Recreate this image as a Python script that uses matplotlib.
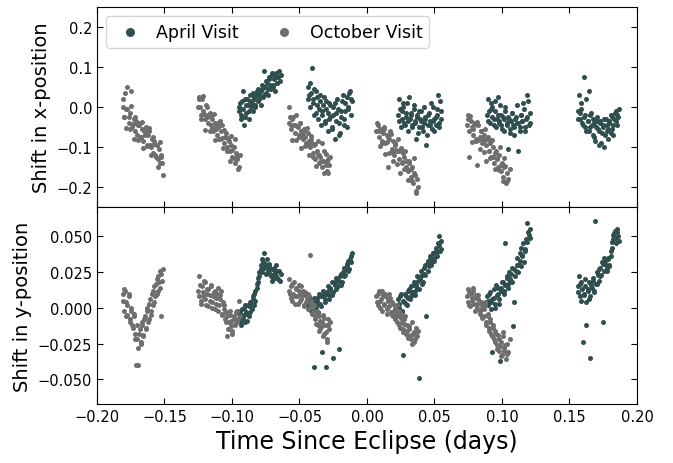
import matplotlib
matplotlib.use("Agg")
import matplotlib.pyplot as plt

# ---------------- October visit (5 orbits) ----------------
oct1_t = [-0.1810, -0.1801, -0.1792, -0.1783, -0.1774, -0.1765, -0.1756, -0.1747, -0.1738, -0.1729, -0.1720, -0.1711, -0.1702, -0.1693, -0.1684, -0.1675, -0.1666, -0.1657, -0.1648, -0.1639, -0.1630, -0.1621, -0.1612, -0.1603, -0.1594, -0.1585, -0.1576, -0.1567, -0.1558, -0.1549, -0.1540, -0.1531, -0.1522, -0.1513,
          -0.1806, -0.1796, -0.1786, -0.1776, -0.1766, -0.1756, -0.1746, -0.1736, -0.1726, -0.1716, -0.1706, -0.1696, -0.1686, -0.1676, -0.1666, -0.1656, -0.1646, -0.1636, -0.1626, -0.1616, -0.1606, -0.1596, -0.1586, -0.1576, -0.1566, -0.1556, -0.1546, -0.1536, -0.1526, -0.1516]
oct1_x = [0.000, -0.025, 0.035, -0.005, 0.050, -0.040, -0.015, 0.040, -0.050, -0.030, -0.060, -0.035, -0.070, -0.045, -0.040, -0.075, -0.055, -0.085, -0.060, -0.050, -0.095, -0.070, -0.060, -0.100, -0.080, -0.115, -0.085, -0.120, -0.095, -0.130, -0.105, -0.140, -0.125, -0.170,
          0.020, -0.024, -0.053, -0.006, -0.025, -0.054, 0.002, -0.042, -0.080, -0.024, -0.043, -0.082, -0.046, -0.074, -0.038, -0.102, -0.071, -0.060, -0.098, -0.052, -0.096, -0.120, -0.074, -0.092, -0.126, -0.095, -0.149, -0.088, -0.121, -0.140]
oct1_y = [0.010, -0.002, 0.012, 0.004, -0.005, 0.008, -0.008, 0.000, -0.012, -0.004, -0.018, -0.040, -0.022, -0.040, -0.015, -0.025, -0.010, -0.020, -0.008, -0.015, -0.002, -0.010, 0.003, -0.005, 0.010, 0.002, 0.015, 0.008, 0.020, 0.012, 0.018, 0.026, -0.006, 0.027,
          0.005, 0.013, -0.006, 0.002, 0.010, -0.010, -0.002, -0.014, -0.006, -0.022, -0.012, -0.028, -0.018, -0.024, -0.012, -0.019, -0.006, -0.014, 0.000, -0.008, 0.006, -0.002, 0.012, 0.004, 0.017, 0.010, 0.022, 0.014, 0.024, 0.019]

oct2_t = [-0.1250, -0.1241, -0.1231, -0.1222, -0.1212, -0.1203, -0.1194, -0.1184, -0.1175, -0.1165, -0.1156, -0.1147, -0.1137, -0.1128, -0.1118, -0.1109, -0.1100, -0.1090, -0.1081, -0.1071, -0.1062, -0.1053, -0.1043, -0.1034, -0.1024, -0.1015, -0.1006, -0.0996, -0.0987, -0.0977, -0.0968, -0.0959, -0.0949, -0.0940,
          -0.1246, -0.1236, -0.1226, -0.1216, -0.1206, -0.1196, -0.1186, -0.1176, -0.1166, -0.1156, -0.1146, -0.1136, -0.1126, -0.1116, -0.1106, -0.1096, -0.1086, -0.1076, -0.1066, -0.1056, -0.1046, -0.1036, -0.1026, -0.1016, -0.1006, -0.0996, -0.0986, -0.0976, -0.0966, -0.0956]
oct2_x = [0.000, 0.025, -0.020, 0.020, -0.010, -0.030, 0.005, -0.025, -0.040, -0.015, -0.045, -0.030, -0.060, -0.040, -0.055, -0.070, -0.050, -0.080, -0.060, -0.045, -0.090, -0.075, -0.065, -0.100, -0.085, -0.110, -0.095, -0.125, -0.100, -0.140, -0.115, -0.130, -0.150, -0.120,
          0.020, 0.001, -0.029, 0.027, -0.017, -0.057, -0.001, -0.020, -0.059, -0.024, -0.053, -0.017, -0.082, -0.051, -0.040, -0.080, -0.034, -0.078, -0.102, -0.057, -0.076, -0.110, -0.080, -0.134, -0.073, -0.108, -0.127, -0.081, -0.125, -0.155]
oct2_y = [0.012, 0.022, 0.005, 0.015, 0.008, 0.018, 0.002, 0.010, 0.013, 0.005, 0.015, 0.000, 0.008, 0.012, 0.003, 0.010, -0.002, 0.006, 0.012, -0.005, 0.002, -0.008, -0.003, -0.020, -0.010, -0.005, -0.013, -0.018, -0.008, -0.012, -0.003, -0.010, 0.005, -0.006,
          0.008, 0.016, 0.003, 0.011, 0.019, 0.006, 0.013, 0.001, 0.009, 0.016, 0.004, 0.011, -0.001, 0.007, 0.014, 0.002, 0.009, -0.004, 0.004, -0.001, -0.010, -0.006, -0.015, -0.002, -0.009, -0.016, -0.006, -0.011, -0.002, -0.008]

oct3_t = [-0.0580, -0.0571, -0.0561, -0.0552, -0.0542, -0.0533, -0.0524, -0.0514, -0.0505, -0.0495, -0.0486, -0.0477, -0.0467, -0.0458, -0.0448, -0.0439, -0.0430, -0.0420, -0.0411, -0.0401, -0.0392, -0.0383, -0.0373, -0.0364, -0.0354, -0.0345, -0.0336, -0.0326, -0.0317, -0.0307, -0.0298, -0.0289, -0.0279, -0.0270,
          -0.0576, -0.0566, -0.0556, -0.0546, -0.0536, -0.0526, -0.0516, -0.0506, -0.0496, -0.0486, -0.0476, -0.0466, -0.0456, -0.0446, -0.0436, -0.0426, -0.0416, -0.0406, -0.0396, -0.0386, -0.0376, -0.0366, -0.0356, -0.0346, -0.0336, -0.0326, -0.0316, -0.0306, -0.0296, -0.0286]
oct3_x = [-0.040, -0.025, -0.055, -0.030, -0.045, -0.065, -0.020, -0.050, -0.070, -0.040, -0.060, -0.080, -0.055, -0.075, -0.090, -0.065, -0.085, -0.100, -0.080, -0.115, -0.095, -0.130, -0.110, -0.120, -0.140, -0.125, -0.150, -0.135, -0.110, -0.145, -0.160, -0.130, -0.145, -0.125,
          0.000, -0.044, -0.082, -0.026, -0.044, -0.083, -0.047, -0.075, -0.039, -0.102, -0.071, -0.060, -0.098, -0.052, -0.095, -0.119, -0.073, -0.091, -0.125, -0.093, -0.147, -0.086, -0.119, -0.138, -0.091, -0.135, -0.164, -0.117, -0.136, -0.164]
oct3_y = [0.020, 0.010, 0.015, 0.005, 0.018, 0.008, 0.013, 0.003, 0.016, 0.010, 0.006, 0.012, 0.002, 0.009, 0.004, 0.010, 0.000, 0.037, 0.005, -0.003, 0.002, -0.008, -0.002, -0.012, -0.006, -0.015, -0.010, -0.005, -0.018, -0.012, -0.022, -0.008, -0.015, -0.010,
          0.012, 0.007, 0.017, 0.010, 0.003, 0.014, 0.008, 0.012, 0.005, 0.015, 0.009, 0.001, 0.011, 0.006, -0.001, 0.008, 0.003, -0.004, 0.001, -0.006, -0.011, -0.004, -0.016, -0.009, -0.013, -0.020, -0.007, -0.017, -0.024, -0.012]

oct4_t = [0.0070, 0.0079, 0.0089, 0.0098, 0.0108, 0.0117, 0.0126, 0.0136, 0.0145, 0.0155, 0.0164, 0.0173, 0.0183, 0.0192, 0.0202, 0.0211, 0.0220, 0.0230, 0.0239, 0.0249, 0.0258, 0.0267, 0.0277, 0.0286, 0.0296, 0.0305, 0.0314, 0.0324, 0.0333, 0.0343, 0.0352, 0.0361, 0.0371, 0.0380,
          0.0075, 0.0085, 0.0095, 0.0105, 0.0115, 0.0125, 0.0135, 0.0145, 0.0155, 0.0165, 0.0175, 0.0185, 0.0195, 0.0205, 0.0215, 0.0225, 0.0235, 0.0245, 0.0255, 0.0265, 0.0275, 0.0285, 0.0295, 0.0305, 0.0315, 0.0325, 0.0335, 0.0345, 0.0355, 0.0365]
oct4_x = [-0.060, -0.045, -0.075, -0.055, -0.085, -0.065, -0.050, -0.090, -0.070, -0.150, -0.080, -0.060, -0.105, -0.085, -0.120, -0.095, -0.110, -0.080, -0.130, -0.105, -0.140, -0.115, -0.125, -0.150, -0.135, -0.160, -0.140, -0.175, -0.150, -0.190, -0.165, -0.215, -0.180, -0.200,
          -0.040, -0.059, -0.098, -0.061, -0.090, -0.054, -0.118, -0.087, -0.075, -0.114, -0.068, -0.112, -0.136, -0.089, -0.108, -0.142, -0.111, -0.165, -0.103, -0.137, -0.156, -0.110, -0.154, -0.182, -0.136, -0.155, -0.184, -0.128, -0.171, -0.210]
oct4_y = [0.008, 0.002, 0.012, 0.005, -0.002, 0.009, 0.003, 0.010, -0.004, 0.006, 0.001, 0.007, -0.005, 0.003, -0.002, -0.008, 0.002, -0.006, -0.012, -0.004, -0.010, -0.015, -0.008, -0.018, -0.012, -0.020, -0.015, -0.022, -0.010, -0.018, -0.024, -0.014, -0.020, -0.016,
          0.004, 0.010, 0.000, 0.006, 0.012, 0.002, 0.008, -0.001, 0.005, 0.010, -0.003, 0.004, -0.006, 0.000, -0.004, -0.010, -0.002, -0.014, -0.007, -0.017, -0.011, -0.006, -0.016, -0.021, -0.013, -0.019, -0.025, -0.017, -0.022, -0.019]

oct5_t = [0.0740, 0.0750, 0.0759, 0.0769, 0.0778, 0.0788, 0.0798, 0.0807, 0.0817, 0.0826, 0.0836, 0.0846, 0.0855, 0.0865, 0.0874, 0.0884, 0.0894, 0.0903, 0.0913, 0.0922, 0.0932, 0.0942, 0.0951, 0.0961, 0.0970, 0.0980, 0.0990, 0.0999, 0.1009, 0.1018, 0.1028, 0.1038, 0.1047, 0.1057,
          0.0745, 0.0755, 0.0765, 0.0775, 0.0785, 0.0795, 0.0805, 0.0815, 0.0825, 0.0835, 0.0845, 0.0855, 0.0865, 0.0875, 0.0885, 0.0895, 0.0905, 0.0915, 0.0925, 0.0935, 0.0945, 0.0955, 0.0965, 0.0975, 0.0985, 0.0995, 0.1005, 0.1015, 0.1025, 0.1035]
oct5_x = [-0.045, -0.020, -0.125, -0.035, -0.050, -0.070, -0.040, -0.080, -0.145, -0.045, -0.075, -0.060, -0.090, -0.070, -0.055, -0.095, -0.080, -0.110, -0.090, -0.125, -0.100, -0.140, -0.115, -0.130, -0.150, -0.120, -0.160, -0.140, -0.175, -0.150, -0.190, -0.165, -0.180, -0.155,
          -0.030, -0.059, -0.023, -0.087, -0.056, -0.045, -0.084, -0.038, -0.082, -0.106, -0.060, -0.079, -0.113, -0.082, -0.136, -0.075, -0.109, -0.128, -0.082, -0.126, -0.155, -0.109, -0.128, -0.157, -0.101, -0.145, -0.184, -0.128, -0.147, -0.186]
oct5_y = [0.008, 0.013, 0.002, 0.010, 0.005, 0.012, -0.002, 0.007, 0.003, 0.009, -0.004, 0.004, 0.000, -0.006, 0.002, -0.010, -0.004, -0.014, -0.008, -0.018, -0.012, -0.022, -0.016, -0.026, -0.019, -0.030, -0.024, -0.033, -0.020, -0.028, -0.036, -0.025, -0.031, -0.022,
          0.004, 0.011, 0.001, 0.007, 0.014, 0.003, 0.009, 0.000, 0.006, -0.002, 0.003, -0.007, -0.001, 0.004, -0.012, -0.006, -0.016, -0.010, -0.020, -0.014, -0.024, -0.018, -0.029, -0.022, -0.027, -0.034, -0.017, -0.030, -0.026, -0.032]

# ---------------- April visit (5 orbits) ----------------
apr1_t = [-0.0950, -0.0940, -0.0931, -0.0921, -0.0912, -0.0902, -0.0893, -0.0883, -0.0874, -0.0864, -0.0855, -0.0845, -0.0836, -0.0826, -0.0817, -0.0807, -0.0798, -0.0788, -0.0779, -0.0769, -0.0760, -0.0750, -0.0741, -0.0731, -0.0722, -0.0712, -0.0703, -0.0693, -0.0684, -0.0674, -0.0665, -0.0655, -0.0646, -0.0636,
          -0.0946, -0.0936, -0.0926, -0.0916, -0.0906, -0.0896, -0.0886, -0.0876, -0.0866, -0.0856, -0.0846, -0.0836, -0.0826, -0.0816, -0.0806, -0.0796, -0.0786, -0.0776, -0.0766, -0.0756, -0.0746, -0.0736, -0.0726, -0.0716, -0.0706, -0.0696, -0.0686, -0.0676, -0.0666, -0.0656]
apr1_x = [-0.010, 0.010, -0.030, 0.040, -0.045, 0.020, -0.015, 0.005, -0.030, 0.030, 0.010, -0.010, 0.025, 0.000, 0.040, 0.015, 0.030, 0.005, 0.045, 0.025, 0.090, 0.035, 0.060, 0.030, 0.070, 0.045, 0.085, 0.055, 0.040, 0.075, 0.060, 0.090, 0.065, 0.080,
          0.000, -0.020, 0.015, -0.005, -0.025, 0.005, 0.020, -0.010, 0.015, 0.000, 0.035, 0.020, 0.005, 0.030, 0.045, 0.020, 0.040, 0.055, 0.030, 0.050, 0.065, 0.045, 0.075, 0.055, 0.080, 0.050, 0.070, 0.085, 0.060, 0.075]
apr1_y = [-0.008, -0.002, -0.012, -0.005, 0.000, -0.010, -0.003, 0.002, -0.006, 0.004, -0.001, 0.006, 0.010, 0.005, 0.014, 0.018, 0.022, 0.027, 0.025, 0.032, 0.038, 0.030, 0.034, 0.026, 0.029, 0.022, 0.027, 0.020, 0.025, 0.030, 0.021, 0.026, 0.019, 0.024,
          -0.004, -0.010, -0.001, -0.007, 0.002, -0.004, -0.009, 0.001, -0.003, 0.003, 0.008, 0.002, 0.012, 0.017, 0.021, 0.025, 0.030, 0.034, 0.028, 0.031, 0.024, 0.028, 0.031, 0.024, 0.019, 0.023, 0.028, 0.022, 0.026, 0.020]

apr2_t = [-0.0440, -0.0430, -0.0420, -0.0410, -0.0400, -0.0390, -0.0380, -0.0370, -0.0360, -0.0350, -0.0340, -0.0330, -0.0320, -0.0310, -0.0300, -0.0290, -0.0280, -0.0270, -0.0260, -0.0250, -0.0240, -0.0230, -0.0220, -0.0210, -0.0200, -0.0190, -0.0180, -0.0170, -0.0160, -0.0150, -0.0140, -0.0130, -0.0120, -0.0110,
          -0.0435, -0.0424, -0.0413, -0.0402, -0.0391, -0.0380, -0.0369, -0.0358, -0.0347, -0.0336, -0.0325, -0.0314, -0.0303, -0.0292, -0.0281, -0.0270, -0.0259, -0.0248, -0.0237, -0.0226, -0.0215, -0.0204, -0.0193, -0.0182, -0.0171, -0.0160, -0.0149, -0.0138, -0.0127, -0.0116]
apr2_x = [0.050, 0.030, 0.000, 0.097, 0.020, -0.020, 0.040, 0.005, -0.030, 0.015, -0.045, -0.010, 0.025, -0.035, -0.005, -0.060, 0.010, -0.025, -0.050, 0.000, -0.080, -0.015, 0.020, -0.040, -0.065, -0.010, 0.030, -0.030, 0.010, -0.050, 0.000, 0.035, -0.020, 0.015,
          0.020, 0.060, 0.035, 0.010, 0.045, -0.015, 0.025, -0.005, 0.030, -0.020, 0.005, -0.040, 0.015, -0.015, -0.030, 0.005, -0.055, -0.020, 0.010, -0.035, -0.005, -0.070, -0.025, 0.015, -0.045, -0.010, 0.025, -0.005, 0.040, 0.020]
apr2_y = [0.003, 0.000, 0.006, -0.002, 0.004, -0.041, 0.002, 0.007, -0.003, 0.008, 0.001, -0.031, 0.010, 0.004, -0.041, 0.012, 0.006, 0.014, 0.009, -0.035, 0.018, 0.013, 0.020, -0.029, 0.022, 0.016, 0.025, 0.028, 0.023, 0.030, 0.033, 0.027, 0.036, 0.038,
          0.001, 0.005, -0.002, 0.003, 0.007, 0.000, 0.005, 0.010, 0.003, 0.008, 0.012, 0.006, 0.010, 0.015, 0.009, 0.013, 0.018, 0.011, 0.016, 0.021, 0.015, 0.019, 0.024, 0.018, 0.022, 0.027, 0.031, 0.026, 0.034, 0.032]

apr3_t = [0.0230, 0.0240, 0.0249, 0.0259, 0.0268, 0.0278, 0.0288, 0.0297, 0.0307, 0.0316, 0.0326, 0.0336, 0.0345, 0.0355, 0.0364, 0.0374, 0.0384, 0.0393, 0.0403, 0.0412, 0.0422, 0.0432, 0.0441, 0.0451, 0.0460, 0.0470, 0.0480, 0.0489, 0.0499, 0.0508, 0.0518, 0.0528, 0.0537, 0.0547,
          0.0235, 0.0246, 0.0257, 0.0268, 0.0279, 0.0290, 0.0301, 0.0312, 0.0323, 0.0334, 0.0345, 0.0356, 0.0367, 0.0378, 0.0389, 0.0400, 0.0411, 0.0422, 0.0433, 0.0444, 0.0455, 0.0466, 0.0477, 0.0488, 0.0499, 0.0510, 0.0521, 0.0532, 0.0543, 0.0552]
apr3_x = [-0.020, 0.020, -0.050, -0.010, 0.000, -0.040, -0.025, 0.010, -0.060, -0.030, -0.015, -0.045, 0.005, -0.035, -0.080, -0.020, -0.050, -0.030, -0.010, -0.060, -0.040, -0.025, -0.095, -0.045, -0.015, -0.035, -0.055, 0.000, -0.030, -0.045, -0.020, 0.030, -0.040, -0.010,
          -0.035, -0.005, -0.030, 0.010, -0.045, -0.015, -0.035, 0.025, -0.020, -0.050, -0.005, -0.040, -0.025, -0.065, -0.010, -0.035, -0.050, 0.000, -0.030, -0.070, -0.020, -0.045, 0.010, -0.035, -0.060, -0.025, -0.005, -0.050, 0.015, -0.030]
apr3_y = [0.006, 0.000, 0.010, -0.003, -0.033, 0.004, 0.008, 0.002, 0.012, 0.006, 0.015, 0.010, 0.018, 0.012, 0.016, 0.022, -0.049, 0.020, 0.026, 0.018, 0.024, 0.030, -0.006, 0.033, 0.029, 0.036, 0.032, 0.038, 0.035, 0.042, 0.039, 0.045, 0.050, 0.041,
          0.003, 0.008, -0.002, 0.005, 0.010, 0.003, 0.007, 0.013, 0.008, 0.011, 0.016, 0.009, 0.014, 0.019, 0.013, 0.022, 0.017, 0.028, 0.023, 0.031, 0.026, 0.034, 0.030, 0.038, 0.033, 0.040, 0.036, 0.044, 0.040, 0.047]

apr4_t = [0.0890, 0.0900, 0.0909, 0.0919, 0.0928, 0.0938, 0.0948, 0.0957, 0.0967, 0.0976, 0.0986, 0.0996, 0.1005, 0.1015, 0.1024, 0.1034, 0.1044, 0.1053, 0.1063, 0.1072, 0.1082, 0.1092, 0.1101, 0.1111, 0.1120, 0.1130, 0.1140, 0.1149, 0.1159, 0.1168, 0.1178, 0.1188, 0.1197, 0.1207,
          0.0895, 0.0906, 0.0917, 0.0928, 0.0938, 0.0949, 0.0960, 0.0970, 0.0981, 0.0992, 0.1002, 0.1013, 0.1024, 0.1034, 0.1045, 0.1056, 0.1066, 0.1077, 0.1088, 0.1098, 0.1109, 0.1120, 0.1130, 0.1141, 0.1152, 0.1162, 0.1173, 0.1184, 0.1194, 0.1205]
apr4_x = [-0.020, 0.020, -0.040, -0.005, 0.000, -0.030, 0.015, -0.050, -0.020, -0.035, 0.005, -0.045, -0.025, -0.060, -0.010, -0.040, -0.105, -0.030, -0.055, -0.015, -0.045, -0.070, -0.025, -0.040, -0.110, -0.050, -0.020, -0.035, 0.010, -0.060, -0.030, 0.030, -0.045, -0.015,
          -0.035, -0.010, 0.010, -0.025, -0.045, -0.010, -0.030, 0.025, -0.040, -0.020, -0.055, -0.030, 0.000, -0.045, -0.025, -0.065, -0.035, -0.015, -0.050, -0.030, 0.005, -0.040, -0.060, -0.020, -0.035, -0.005, -0.050, -0.025, 0.015, -0.040]
apr4_y = [0.008, 0.002, 0.011, 0.004, -0.031, 0.007, 0.000, 0.016, 0.010, 0.003, -0.037, 0.014, 0.018, 0.012, 0.045, 0.022, 0.017, 0.025, 0.020, 0.028, -0.013, 0.004, 0.026, 0.035, 0.030, 0.038, 0.042, 0.036, 0.045, 0.040, 0.048, 0.059, 0.051, 0.055,
          0.005, 0.010, -0.001, 0.006, 0.013, 0.003, 0.009, 0.014, 0.006, 0.012, 0.018, 0.010, 0.016, 0.021, 0.014, 0.019, 0.024, 0.018, 0.027, 0.022, 0.030, 0.025, 0.033, 0.029, 0.037, 0.032, 0.041, 0.046, 0.053, 0.049]

apr5_t = [0.1560, 0.1569, 0.1579, 0.1588, 0.1598, 0.1607, 0.1616, 0.1626, 0.1635, 0.1645, 0.1654, 0.1663, 0.1673, 0.1682, 0.1692, 0.1701, 0.1710, 0.1720, 0.1729, 0.1739, 0.1748, 0.1757, 0.1767, 0.1776, 0.1786, 0.1795, 0.1804, 0.1814, 0.1823, 0.1833, 0.1842, 0.1851, 0.1861, 0.1870,
          0.1565, 0.1575, 0.1585, 0.1595, 0.1605, 0.1615, 0.1625, 0.1635, 0.1645, 0.1655, 0.1665, 0.1675, 0.1685, 0.1695, 0.1705, 0.1715, 0.1725, 0.1735, 0.1745, 0.1755, 0.1765, 0.1775, 0.1785, 0.1795, 0.1805, 0.1815, 0.1825, 0.1835, 0.1845, 0.1855]
apr5_x = [-0.010, 0.030, -0.030, -0.005, -0.045, 0.075, -0.020, -0.060, -0.035, 0.040, -0.050, -0.015, -0.070, -0.040, -0.085, -0.025, -0.055, -0.095, -0.035, -0.065, -0.045, -0.100, -0.030, -0.060, -0.080, -0.040, -0.020, -0.055, -0.070, -0.030, -0.010, -0.045, -0.025, -0.005,
          -0.030, -0.015, 0.010, -0.040, -0.025, -0.050, 0.020, -0.035, -0.060, -0.020, -0.045, -0.030, -0.075, -0.050, -0.035, -0.060, -0.040, -0.090, -0.050, -0.030, -0.070, -0.045, -0.055, -0.035, -0.065, -0.025, -0.045, -0.015, -0.035, -0.020]
apr5_y = [0.015, 0.022, 0.008, 0.018, -0.024, 0.010, 0.020, -0.012, 0.013, 0.006, -0.035, 0.016, 0.019, 0.012, 0.061, 0.017, 0.023, 0.027, 0.022, 0.032, -0.010, 0.035, 0.030, 0.026, 0.034, 0.029, 0.036, 0.042, 0.048, 0.052, 0.045, 0.055, 0.050, 0.047,
          0.011, 0.017, 0.005, 0.013, 0.009, 0.015, 0.004, 0.012, 0.018, 0.008, 0.014, 0.021, 0.011, 0.017, 0.025, 0.019, 0.028, 0.023, 0.031, 0.026, 0.033, 0.028, 0.035, 0.030, 0.040, 0.046, 0.051, 0.054, 0.049, 0.053]

apr_t = apr1_t + apr2_t + apr3_t + apr4_t + apr5_t
apr_x = apr1_x + apr2_x + apr3_x + apr4_x + apr5_x
apr_y = apr1_y + apr2_y + apr3_y + apr4_y + apr5_y
oct_t = oct1_t + oct2_t + oct3_t + oct4_t + oct5_t
oct_x = oct1_x + oct2_x + oct3_x + oct4_x + oct5_x
oct_y = oct1_y + oct2_y + oct3_y + oct4_y + oct5_y

labels = ["April Visit", "October Visit"]
xticks = [-0.20, -0.15, -0.10, -0.05, 0.00, 0.05, 0.10, 0.15, 0.20]
top_yticks = [-0.2, -0.1, 0.0, 0.1, 0.2]
bot_yticks = [-0.050, -0.025, 0.000, 0.025, 0.050]

apr_color = "#2f4f4f"
oct_color = "#6e6e6e"
ms = 13

fig = plt.figure(figsize=(6.73, 4.64), dpi=100)
ax1 = fig.add_axes([0.144, 0.5517, 0.8025, 0.4310])
ax2 = fig.add_axes([0.144, 0.1272, 0.8025, 0.4245], sharex=ax1)

for ax, ya, yo in ((ax1, apr_x, oct_x), (ax2, apr_y, oct_y)):
    ax.scatter(apr_t, ya, s=ms, color=apr_color, label=labels[0], linewidths=0)
    ax.scatter(oct_t, yo, s=ms, color=oct_color, label=labels[1], linewidths=0)
    ax.tick_params(direction="in", top=True, right=True, labelsize=10.5, length=4)

ax1.set_xlim(-0.20, 0.20)
ax1.set_xticks(xticks)
ax1.tick_params(labelbottom=False)
ax1.set_ylim(-0.25, 0.25)
ax1.set_yticks(top_yticks)
ax1.set_yticklabels([f"{v:.1f}".replace("-", "\u2212") for v in top_yticks])
ax2.set_ylim(-0.0672, 0.0705)
ax2.set_yticks(bot_yticks)
ax2.set_yticklabels([f"{v:.3f}".replace("-", "\u2212") for v in bot_yticks])
ax2.set_xticklabels([f"{v:.2f}".replace("-", "\u2212") for v in xticks])

ax1.set_ylabel("Shift in x-position", fontsize=14)
ax2.set_ylabel("Shift in y-position", fontsize=14)
ax2.set_xlabel("Time Since Eclipse (days)", fontsize=17)
fig.align_ylabels([ax1, ax2])

ax1.legend(loc="upper left", ncol=2, fontsize=12.5, markerscale=1.8,
           columnspacing=1.6, handletextpad=0.5, borderaxespad=0.5,
           scatterpoints=1)

fig.savefig("out.png", dpi=100)
